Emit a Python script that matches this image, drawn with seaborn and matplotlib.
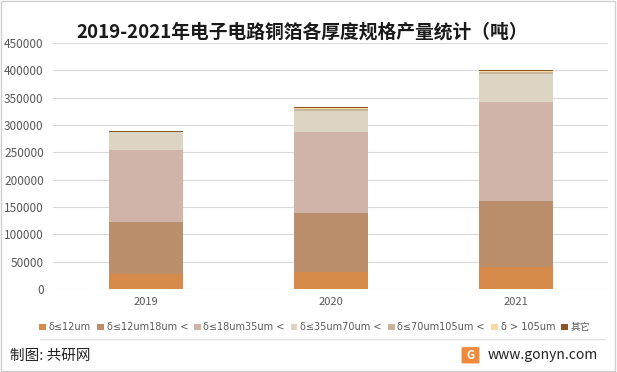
import numpy as np
import pandas as pd
import matplotlib
matplotlib.use("Agg")
import matplotlib.pyplot as plt
from matplotlib.patches import Patch, FancyBboxPatch, Rectangle
import seaborn as sns

# Data (tonnes)
years = ["2019", "2020", "2021"]
series_names = ["δ≤12um", "δ≤12um18um <", "δ≤18um35um <", "δ≤35um70um <",
                "δ≤70um105um <", "δ > 105um", "其它"]
le_12 = [28000, 31600, 40200]
um12_18 = [94500, 107400, 120800]
um18_35 = [131500, 148000, 181000]
um35_70 = [32500, 38600, 51200]
um70_105 = [1000, 3600, 3800]
gt_105 = [500, 1500, 1500]
other = [1000, 2000, 2000]
colors = ["#D68B4B", "#BB8E6C", "#D1B4A9", "#DDD5C4", "#C9B497", "#F8D9A2", "#8B5524"]

yticks = list(range(0, 450001, 50000))

sns.set_theme(style="white")
plt.rcParams["font.family"] = ["Noto Sans CJK SC", "DejaVu Sans"]

layers = [le_12, um12_18, um18_35, um35_70, um70_105, gt_105, other]
cum = np.cumsum(np.array(layers), axis=0)

fig = plt.figure(figsize=(6.17, 3.72), dpi=100)
ax = fig.add_axes([0.0867, 0.223, 0.899, 0.661])

# draw cumulative totals from the top layer down so each overlays the previous
for i in range(len(layers) - 1, -1, -1):
    df = pd.DataFrame({"year": years, "value": cum[i]})
    sns.barplot(data=df, x="year", y="value", color=colors[i], width=0.4,
                saturation=1, linewidth=0, edgecolor="none", ax=ax, zorder=3)

ax.set_ylim(0, 450000)
ax.set_xlim(-0.5, 2.5)
ax.set_yticks(yticks)
ax.set_yticklabels([str(v) for v in yticks], fontsize=8.5, color="#595959")
ax.tick_params(axis="x", labelsize=8, labelcolor="#595959", length=0, pad=6)
ax.tick_params(axis="y", length=0, pad=7)
ax.grid(axis="y", color="#D9D9D9", linewidth=0.8, zorder=0)
ax.set_xlabel("")
ax.set_ylabel("")
for s in ax.spines.values():
    s.set_visible(False)

ax.set_title("2019-2021年电子电路铜箔各厚度规格产量统计（吨）", fontsize=13.5,
             fontweight="bold", color="#1a1a1a", pad=4, x=0.448)

handles = [Patch(facecolor=c, edgecolor="none") for c in colors]
fig.legend(handles, series_names, loc="center", bbox_to_anchor=(0.51, 0.12),
           ncol=7, frameon=False, handlelength=0.7, handleheight=0.7,
           handletextpad=0.3, columnspacing=0.6, labelcolor="#595959",
           prop={"family": ["DejaVu Sans", "Noto Sans CJK SC"], "size": 7})

# footer
fig.add_artist(plt.Line2D([0.065, 0.98], [0.088, 0.088], color="#E3E3E3",
                          linewidth=1, transform=fig.transFigure))
fig.text(0.016, 0.043, "制图: 共研网", fontsize=10.5, color="#222222", va="center")
fig.patches.append(FancyBboxPatch((0.75, 0.025), 0.025, 0.04,
                                  boxstyle="round,pad=0.002", facecolor="#F08A3C",
                                  edgecolor="none", transform=fig.transFigure))
fig.text(0.7625, 0.045, "G", fontsize=8, color="white", fontweight="bold",
         ha="center", va="center")
fig.text(0.79, 0.045, "www.gonyn.com", fontsize=10, color="#222222", va="center")

# outer border
fig.patches.append(Rectangle((0.002, 0.003), 0.995, 0.994, fill=False,
                             edgecolor="#D0D0D0", linewidth=1,
                             transform=fig.transFigure))

fig.savefig("out.png", dpi=100)
